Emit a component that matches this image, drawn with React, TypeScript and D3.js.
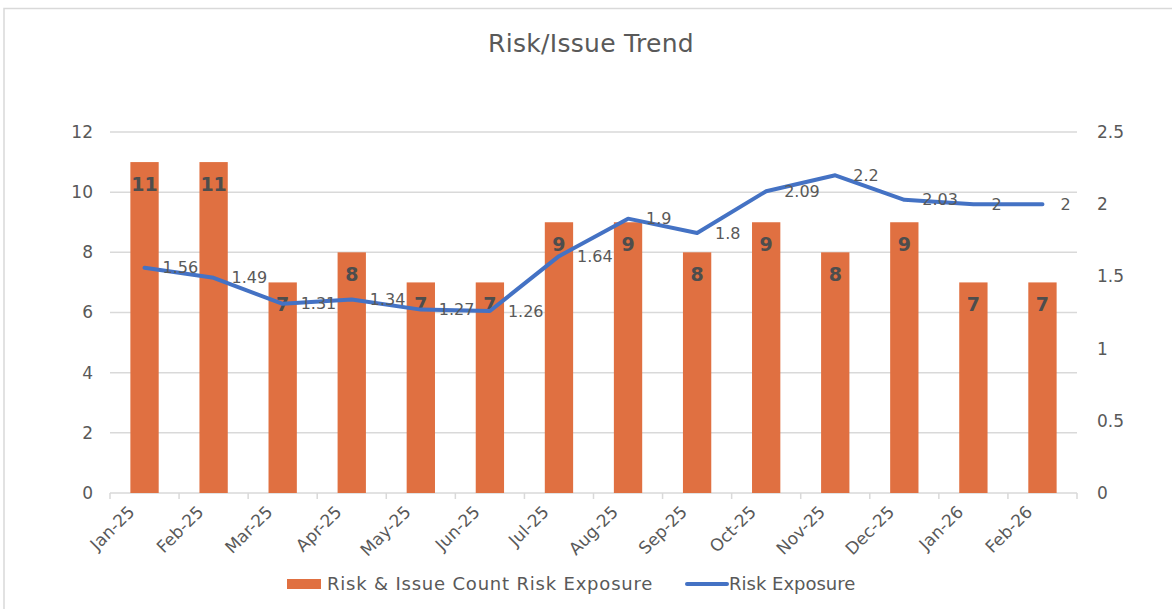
import { useMemo } from "react";
import * as d3 from "d3";

const WIDTH = 1172;
const HEIGHT = 609;
const MARGIN = { top: 132, right: 95, bottom: 116, left: 110 };
const FONT = "'Century Gothic', 'DejaVu Sans', sans-serif";
const TEXT = "#595959";

const months = [
    "Jan-25", "Feb-25", "Mar-25", "Apr-25", "May-25", "Jun-25", "Jul-25",
    "Aug-25", "Sep-25", "Oct-25", "Nov-25", "Dec-25", "Jan-26", "Feb-26",
];
const issueCounts = [11, 11, 7, 8, 7, 7, 9, 9, 8, 9, 8, 9, 7, 7];
const riskExposure = [1.56, 1.49, 1.31, 1.34, 1.27, 1.26, 1.64, 1.9, 1.8, 2.09, 2.2, 2.03, 2, 2];
const leftTicks = [0, 2, 4, 6, 8, 10, 12];
const rightTicks = [0, 0.5, 1, 1.5, 2, 2.5];
const barSeriesName = "Risk & Issue Count Risk Exposure";
const lineSeriesName = "Risk Exposure";

const App = () => {
    const boundsWidth = WIDTH - MARGIN.left - MARGIN.right;
    const boundsHeight = HEIGHT - MARGIN.top - MARGIN.bottom;

    const xScale = useMemo(
        () => d3.scaleBand<string>().domain(months).range([0, boundsWidth]).padding(0),
        [boundsWidth]
    );
    const yLeft = useMemo(
        () => d3.scaleLinear().domain([0, 12]).range([boundsHeight, 0]),
        [boundsHeight]
    );
    const yRight = useMemo(
        () => d3.scaleLinear().domain([0, 2.5]).range([boundsHeight, 0]),
        [boundsHeight]
    );

    const barWidth = xScale.bandwidth() * 0.41;
    const cx = (m: string) => (xScale(m) ?? 0) + xScale.bandwidth() / 2;

    const linePath = d3
        .line<number>()
        .x((_, i) => cx(months[i]))
        .y((d) => yRight(d))(riskExposure);

    return (
        <svg
            width={WIDTH}
            height={HEIGHT}
            style={{ position: "absolute", left: 0, top: 0, background: "white" }}
            fontFamily={FONT}
        >
            {/* chart frame */}
            <rect x={4} y={8.5} width={WIDTH + 10} height={HEIGHT + 10} fill="white" stroke="#d9d9d9" strokeWidth={1.5} />

            <text x={591} y={52} textAnchor="middle" fontSize={25} fill={TEXT} letterSpacing={0.3}>
                Risk/Issue Trend
            </text>

            <g transform={`translate(${MARGIN.left},${MARGIN.top})`}>
                {/* gridlines + left axis */}
                {leftTicks.map((t) => (
                    <g key={t}>
                        <line x1={0} x2={boundsWidth} y1={yLeft(t)} y2={yLeft(t)} stroke="#d9d9d9" strokeWidth={1.5} />
                        <text x={-17} y={yLeft(t)} dy="0.35em" textAnchor="end" fontSize={17} fill={TEXT}>
                            {t}
                        </text>
                    </g>
                ))}
                {rightTicks.map((t) => (
                    <text key={t} x={boundsWidth + 20} y={yRight(t)} dy="0.35em" fontSize={17} fill={TEXT}>
                        {t}
                    </text>
                ))}

                {/* x tick marks at band edges */}
                {d3.range(months.length + 1).map((i) => (
                    <line
                        key={i}
                        x1={i * xScale.step()}
                        x2={i * xScale.step()}
                        y1={boundsHeight}
                        y2={boundsHeight + 6}
                        stroke="#d9d9d9"
                        strokeWidth={1.5}
                    />
                ))}
                {months.map((m) => (
                    <text
                        key={m}
                        transform={`translate(${cx(m) - 9},${boundsHeight + 20}) rotate(-45)`}
                        textAnchor="end"
                        fontSize={17}
                        fill={TEXT}
                    >
                        {m}
                    </text>
                ))}

                {/* bars */}
                {issueCounts.map((v, i) => (
                    <g key={i}>
                        <rect
                            x={cx(months[i]) - barWidth / 2}
                            y={yLeft(v)}
                            width={barWidth}
                            height={boundsHeight - yLeft(v)}
                            fill="#e07041"
                        />
                        <text
                            x={cx(months[i])}
                            y={yLeft(v) + 29}
                            textAnchor="middle"
                            fontSize={19}
                            fontWeight="bold"
                            fill="#4d4d4d"
                        >
                            {v}
                        </text>
                    </g>
                ))}

                {/* risk exposure line */}
                <path d={linePath ?? ""} fill="none" stroke="#4472c4" strokeWidth={4} strokeLinejoin="round" strokeLinecap="round" />
                {riskExposure.map((v, i) => (
                    <text
                        key={i}
                        x={cx(months[i]) + 18}
                        y={yRight(v)}
                        dy="0.35em"
                        fontSize={16}
                        fill={TEXT}
                    >
                        {v}
                    </text>
                ))}
            </g>

            {/* legend */}
            <g transform="translate(287,584)">
                <rect x={0} y={-5} width={34} height={10} fill="#e07041" />
                <text x={40} y={0} dy="0.35em" fontSize={18} fill={TEXT} letterSpacing={0.8}>
                    {barSeriesName}
                </text>
                <line x1={400} x2={440} y1={0} y2={0} stroke="#4472c4" strokeWidth={4} strokeLinecap="round" />
                <text x={442} y={0} dy="0.35em" fontSize={18} fill={TEXT}>
                    {lineSeriesName}
                </text>
            </g>
        </svg>
    );
};

export default App;
